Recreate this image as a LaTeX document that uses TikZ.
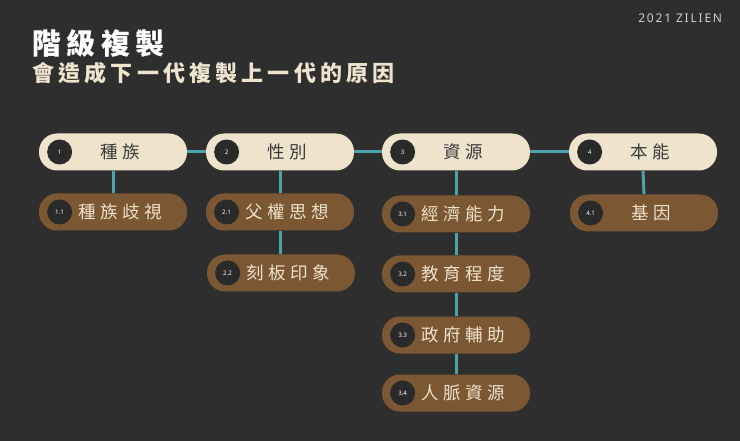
\documentclass[tikz,border=0pt]{standalone}
\usepackage{fontspec}
\setmainfont{Noto Sans}
\newfontfamily\cjk{Noto Sans CJK TC}
\newfontfamily\cjkwide[LetterSpace=25]{Noto Sans CJK TC}
\newfontfamily\cjkhead[LetterSpace=19]{Noto Sans CJK TC}
\newfontfamily\signwide[LetterSpace=15]{Noto Sans}
\usetikzlibrary{positioning,backgrounds}

\definecolor{bgdark}{HTML}{2E2E2E}
\definecolor{pillcream}{HTML}{EFE3CD}
\definecolor{pillbrown}{HTML}{7B5733}
\definecolor{linkteal}{HTML}{4BA3AE}
\definecolor{dotdark}{HTML}{2A2A2A}
\definecolor{inkgray}{HTML}{3A3A3A}
\definecolor{signgray}{HTML}{CFCFCF}

\tikzset{every picture/.style={line width=0.75pt}}
\tikzset{
  pill/.style={rectangle, rounded corners=18pt, minimum width=148pt, minimum height=37pt, inner sep=0pt},
  mainpill/.style={pill, fill=pillcream, text=inkgray, font=\cjkwide\fontsize{17.5}{17.5}\selectfont},
  subpill/.style={pill, fill=pillbrown, text=pillcream, font=\cjkwide\fontsize{17.5}{17.5}\selectfont},
  numdot/.style={circle, fill=dotdark, minimum size=25pt, inner sep=0pt, text=white, font=\bfseries\fontsize{6.2}{7}\selectfont},
  link/.style={draw=linkteal, line width=3pt}
}

\begin{document}
\begin{tikzpicture}[x=1pt,y=1pt,yscale=-1,xscale=1]
\useasboundingbox (0,0) rectangle (740,441);

% Text Node
\node [anchor=base west, inner sep=0pt, text=white, font=\cjkhead\bfseries\fontsize{29}{29}\selectfont] (title) at (32,55) {階級複製};
% Text Node
\node [anchor=base west, inner sep=0pt, text=pillcream, font=\cjkhead\bfseries\fontsize{22}{22}\selectfont] (subtitle) at (32,81.5) {會造成下一代複製上一代的原因};
% Text Node
\node [anchor=base east, inner sep=0pt, text=signgray, font=\signwide\fontsize{12}{12}\selectfont] (sign) at (722.5,23) {2021 ZILIEN};

%Shape: Pill (top row)
\node [mainpill] (n1) at (113,152) {\hspace*{14pt}種族};
\node [mainpill] (n2) at (280,152) {\hspace*{14pt}性別};
\node [mainpill] (n3) at (456,152) {\hspace*{14pt}資源};
\node [mainpill] (n4) at (643,152) {\hspace*{14pt}本能};

%Shape: Pill (sub items)
\node [subpill] (n11) at (113,212) {\hspace*{14pt}種族歧視};
\node [subpill] (n21) at (280,212) {\hspace*{14pt}父權思想};
\node [subpill] (n22) at (281,273) {\hspace*{14pt}刻板印象};
\node [subpill] (n31) at (456,214) {\hspace*{14pt}經濟能力};
\node [subpill] (n32) at (456,274) {\hspace*{14pt}教育程度};
\node [subpill] (n33) at (456,335) {\hspace*{14pt}政府輔助};
\node [subpill] (n34) at (456,393) {\hspace*{14pt}人脈資源};
\node [subpill] (n41) at (644,213) {\hspace*{14pt}基因};

%Shape: Circle (numbers)
\node [numdot] (d1) at ([xshift=21pt]n1.west) {1};
\node [numdot] (d2) at ([xshift=21pt]n2.west) {2};
\node [numdot] (d3) at ([xshift=21pt]n3.west) {3};
\node [numdot] (d4) at ([xshift=21pt]n4.west) {4};
\node [numdot] (d11) at ([xshift=21pt]n11.west) {1.1};
\node [numdot] (d21) at ([xshift=21pt]n21.west) {2.1};
\node [numdot] (d22) at ([xshift=21pt]n22.west) {2.2};
\node [numdot] (d31) at ([xshift=21pt]n31.west) {3.1};
\node [numdot] (d32) at ([xshift=21pt]n32.west) {3.2};
\node [numdot] (d33) at ([xshift=21pt]n33.west) {3.3};
\node [numdot] (d34) at ([xshift=21pt]n34.west) {3.4};
\node [numdot] (d41) at ([xshift=21pt]n41.west) {4.1};

\begin{scope}[on background layer]
%Shape: Rectangle (backdrop)
\fill [bgdark] (0,0) rectangle (740,441);
%Straight Lines
\draw [link] (n1.east) -- (n2.west);
\draw [link] (n2.east) -- (n3.west);
\draw [link] (n3.east) -- (n4.west);
\draw [link] (n1.south) -- (n11.north);
\draw [link] (n2.south) -- (n21.north);
\draw [link] (n21.south) -- (n22.north -| n21.south);
\draw [link] (n3.south) -- (n31.north);
\draw [link] (n31.south) -- (n32.north);
\draw [link] (n32.south) -- (n33.north);
\draw [link] (n33.south) -- (n34.north);
\draw [link] (n4.south) -- (n41.north);
\end{scope}

\end{tikzpicture}
\end{document}
